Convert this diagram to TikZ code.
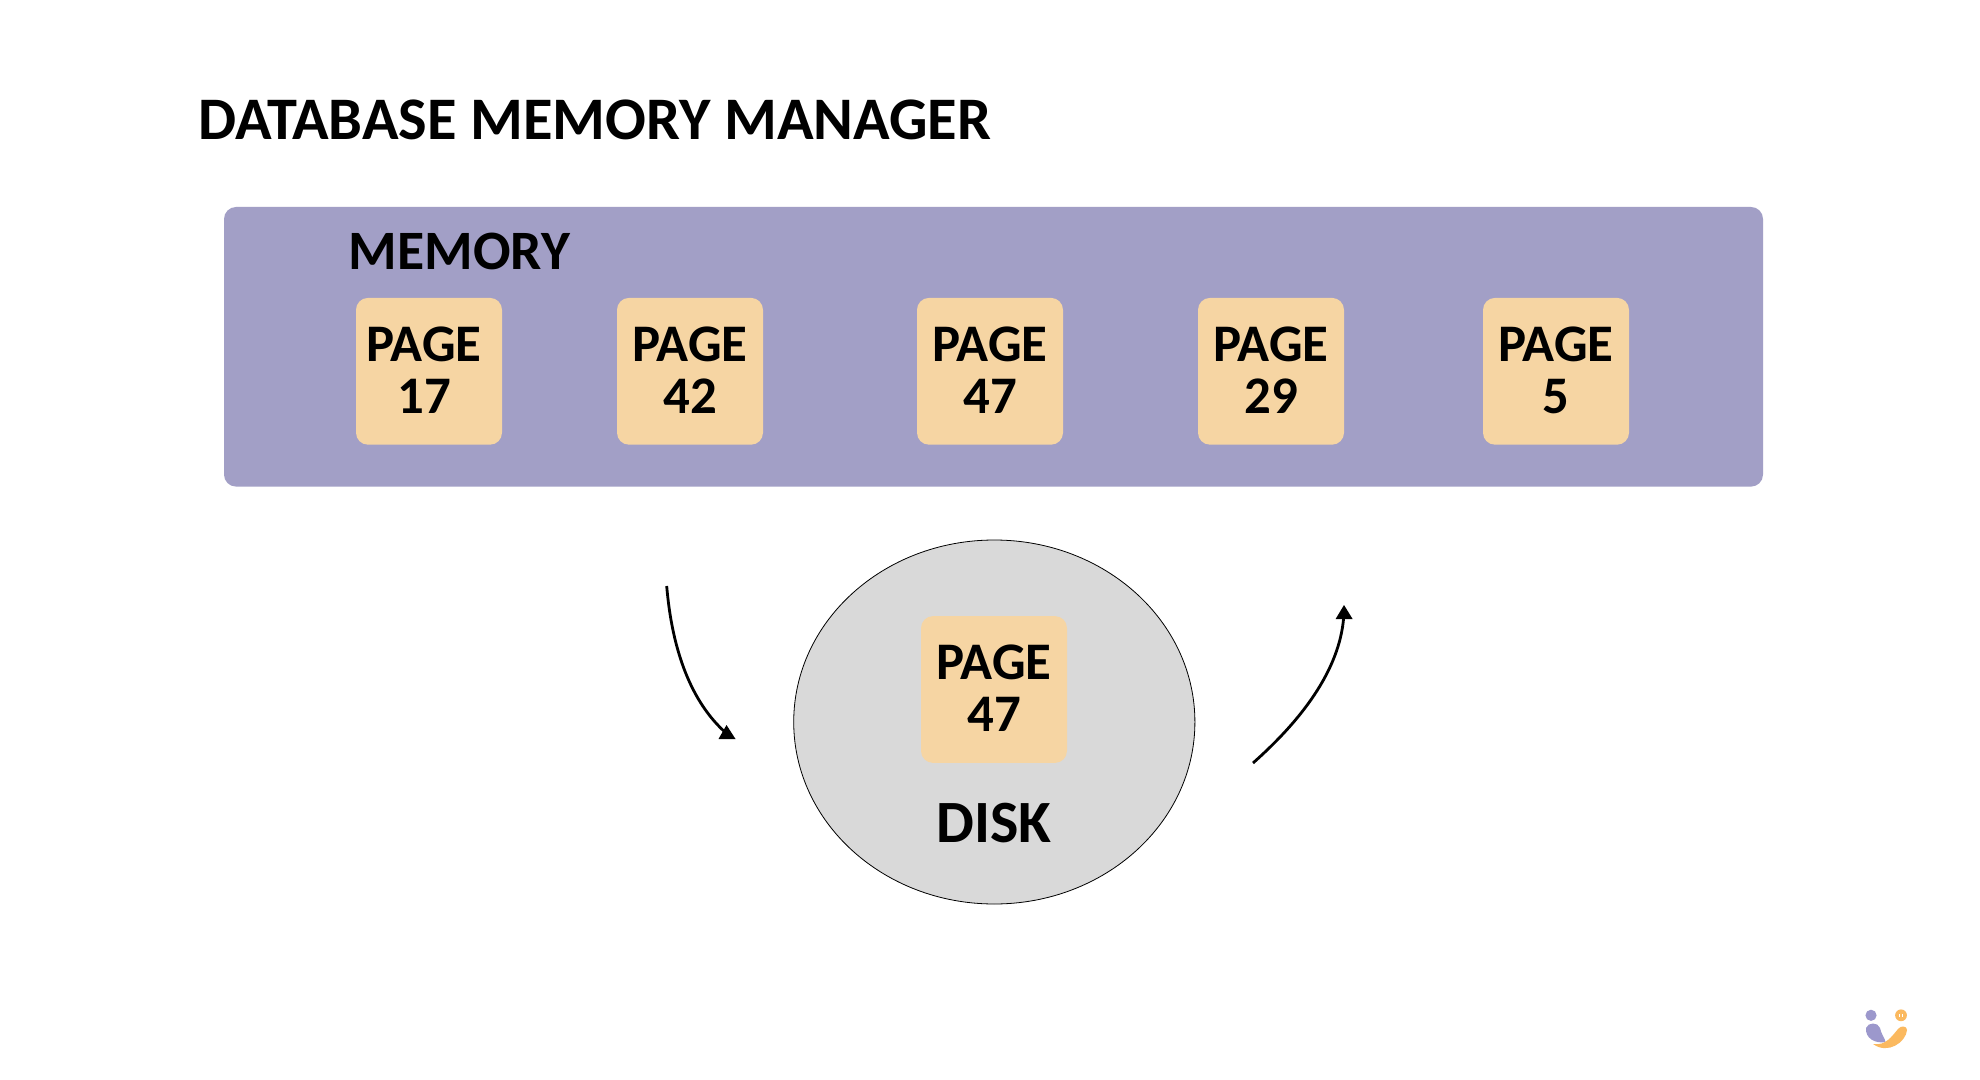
\documentclass[tikz,border=0pt]{standalone}
\usepackage{fontspec}
\setmainfont{Carlito}[BoldFont=Carlito Bold]
\usetikzlibrary{shapes.geometric}
\tikzset{
  x=0.5pt,y=-0.5pt,
  panel/.style={fill=memfill,draw=none,rounded corners=6pt,minimum width=769.5pt,minimum height=139.8pt,inner sep=0pt},
  pagebox/.style={fill=pagefill,draw=none,rounded corners=6pt,minimum width=73pt,minimum height=73.4pt,inner sep=0pt,align=center,
    font=\fontsize{26.4}{26}\selectfont\bfseries},
  disknode/.style={ellipse,fill=diskfill,draw=black,line width=0.4pt,minimum width=200.6pt,minimum height=182pt,inner sep=0pt},
  headline/.style={inner sep=0pt,font=\fontsize{27.8}{28}\selectfont\bfseries},
  flow/.style={draw=black,line width=1.4pt},
  tiphead/.style={fill=black,draw=none},
  logopurple/.style={fill=logoP,draw=none},
  logoorange/.style={fill=logoO,draw=none}
}
\definecolor{memfill}{HTML}{A29FC6}
\definecolor{pagefill}{HTML}{F6D5A3}
\definecolor{diskfill}{HTML}{D9D9D9}
\definecolor{logoP}{HTML}{9C98CC}
\definecolor{logoO}{HTML}{FBB95F}
\begin{document}
\begin{tikzpicture}
\useasboundingbox (0,0) rectangle (1980,1080);
\fill[white] (0,0) rectangle (1980,1080);
\node[inner sep=0pt,anchor=center,font=\fontsize{30.2}{31}\selectfont\bfseries] (title) at (595,120) {DATABASE MEMORY MANAGER};
\node[panel] (memory) at (993.5,346.8) {};
\node[headline] (memlabel) at (459.5,251) {MEMORY};
\node[pagebox] (p17) at (429,371.3) {\raisebox{1.5pt}{PAGE}\kern5pt\\\raisebox{1.5pt}{17}\kern5pt};
\node[pagebox] (p42) at (690,371.3) {\raisebox{1.5pt}{PAGE}\\\raisebox{1.5pt}{42}};
\node[pagebox] (p47) at (990,371.3) {\raisebox{1.5pt}{PAGE}\\\raisebox{1.5pt}{47}};
\node[pagebox] (p29) at (1271,371.3) {\raisebox{1.5pt}{PAGE}\\\raisebox{1.5pt}{29}};
\node[pagebox] (p5) at (1556,371.3) {\raisebox{1.5pt}{PAGE}\\\raisebox{1.5pt}{5}};
\node[disknode] (disk) at (994.3,722) {};
\node[pagebox] (dp47) at (994,689.5) {\raisebox{1.5pt}{PAGE}\\\raisebox{1.5pt}{47}};
\node[inner sep=0pt,font=\fontsize{30}{30}\selectfont\bfseries] (disklabel) at (994,823) {DISK};
\coordinate (a1s) at (666.7,586);
\coordinate (a1e) at (726,733);
\coordinate (a2s) at (1253,763);
\coordinate (a2e) at (1344,612);
\draw[flow] (a1s) .. controls (672,650) and (691,702) .. (a1e);
\fill[tiphead] (726.5,725) -- (735.5,739) -- (718.5,739) -- cycle;
\draw[flow] (a2s) .. controls (1306,716) and (1342,665) .. (a2e);
\fill[tiphead] (1344,605) -- (1352.6,619) -- (1335.6,619) -- cycle;
% logo
\fill[logopurple] (1871,1015.3) circle[radius=5.6];
\fill[logoorange] (1901,1015.3) circle[radius=5.9];
\fill[white] (1898.6,1013.5) rectangle (1900,1017);
\fill[white] (1902,1013.5) rectangle (1903.4,1017);
\fill[logopurple] (1866,1028) .. controls (1868,1022) and (1878,1022) .. (1880,1028)
  .. controls (1881,1034) and (1885,1038) .. (1885.5,1042)
  .. controls (1875,1044) and (1865,1038) .. (1866,1028) -- cycle;
\fill[logoorange] (1873,1044) .. controls (1886,1046) and (1892,1036) .. (1898,1029)
  .. controls (1901,1025) and (1907,1026) .. (1907,1030)
  .. controls (1906,1042) and (1888,1055) .. (1873,1044) -- cycle;
\end{tikzpicture}
\end{document}
